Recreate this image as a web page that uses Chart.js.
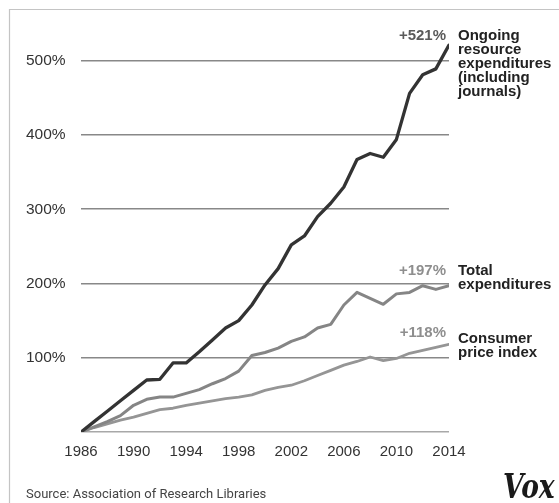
<!DOCTYPE html>
<html>
<head>
<meta charset="utf-8">
<script src="https://cdn.jsdelivr.net/npm/chart.js@4.4.1/dist/chart.umd.min.js"></script>
<style>
html,body{margin:0;padding:0;background:#fff;}
#wrap{position:relative;width:559px;height:503px;}
</style>
</head>
<body>
<div id="wrap"><canvas id="c" width="559" height="503"></canvas></div>
<script>
// ---- data (percent change since 1986) ----
const years = [1986,1987,1988,1989,1990,1991,1992,1993,1994,1995,1996,1997,1998,1999,2000,2001,2002,2003,2004,2005,2006,2007,2008,2009,2010,2011,2012,2013,2014];
const ongoingResources = [0,14,28,42,56,70,71,93,93,108,124,140,150,171,198,220,252,264,290,308,330,367,375,370,394,456,481,489,521];
const totalExpenditures = [0,7,14,22,36,44,47,47,52,57,65,72,82,103,107,113,122,128,140,145,171,188,180,172,186,188,197,192,197];
const consumerPriceIndex = [0,6,11,16,20,25,30,32,36,39,42,45,47,50,56,60,63,69,76,83,90,95,101,96,99,106,110,114,118];
const xTickYears = [1986,1990,1994,1998,2002,2006,2010,2014];
const yTickValues = [0,100,200,300,400,500];
const seriesNames = [
  ['Ongoing','resource','expenditures','(including','journals)'],
  ['Total','expenditures'],
  ['Consumer','price index']
];
const endLabels = ['+521%','+197%','+118%'];
const sourceText = 'Source: Association of Research Libraries';
const brandText = 'Vox';

// ---- styles ----
const lineColors = ['#333333','#858585','#959595'];
const lineWidths = [3.3,3,2.8];
const pctColors = ['#5a5a5a','#8e8e8e','#8e8e8e'];
const labelDy = [-5,-10.7,-1.4];
const pctDy = [-5,-10.7,-7];

const seriesValues = [ongoingResources, totalExpenditures, consumerPriceIndex];
const datasets = seriesValues.map((vals,i)=>({
  label: seriesNames[i].join(' '),
  data: years.map((y,j)=>({x:y,y:vals[j]})),
  borderColor: lineColors[i],
  borderWidth: lineWidths[i],
  pointRadius: 0,
  tension: 0,
  fill: false,
  borderJoinStyle: 'round',
  borderCapStyle: 'round'
}));

const FONT = '"Liberation Sans", Arial, sans-serif';

const decor = {
  id: 'decor',
  beforeDraw(chart){
    const c = chart.ctx;
    c.save();
    c.strokeStyle = '#c4c4c4';
    c.lineWidth = 1.2;
    c.beginPath();
    c.moveTo(9.5, 503); c.lineTo(9.5, 9.5); c.lineTo(559, 9.5);
    c.stroke();
    c.restore();
  },
  afterDraw(chart){
    const c = chart.ctx;
    const xs = chart.scales.x, ys = chart.scales.y;
    const xEnd = xs.getPixelForValue(years[years.length-1]);
    c.save();
    c.textBaseline = 'alphabetic';
    seriesValues.forEach((vals,i)=>{
      const yLast = ys.getPixelForValue(vals[vals.length-1]);
      c.font = 'bold 15px ' + FONT;
      c.fillStyle = pctColors[i];
      c.textAlign = 'right';
      c.fillText(endLabels[i], xEnd - 3, yLast + pctDy[i]);
      c.fillStyle = '#222';
      c.textAlign = 'left';
      seriesNames[i].forEach((ln,k)=>{
        c.fillText(ln, xEnd + 9, yLast + labelDy[i] + k*14);
      });
    });
    c.font = '13px Roboto, ' + FONT;
    c.fillStyle = '#444';
    c.textAlign = 'left';
    c.fillText(sourceText, 26, 498);
    c.save();
    c.translate(503, 498);
    c.scale(0.78, 1);
    c.font = 'bold italic 34px "DejaVu Serif", "Liberation Serif", serif';
    c.fillStyle = '#1a1a1a';
    c.fillText(brandText, 0, 0);
    c.restore();
    c.restore();
  }
};

new Chart(document.getElementById('c'), {
  type: 'line',
  data: { datasets },
  plugins: [decor],
  options: {
    responsive: false,
    animation: false,
    devicePixelRatio: 1,
    layout: { padding: { left: 26, top: 31, right: 110, bottom: 0 } },
    plugins: { legend: { display: false }, tooltip: { enabled: false } },
    scales: {
      x: {
        type: 'linear',
        min: years[0], max: years[years.length-1],
        afterFit(s){ s.height = 71; },
        afterBuildTicks(s){ s.ticks = xTickYears.map(v=>({value:v})); },
        grid: { display: false, drawTicks: false },
        border: { display: false },
        ticks: {
          padding: 11,
          color: '#333',
          font: { size: 15, family: FONT },
          maxRotation: 0,
          autoSkip: false,
          callback: v => String(v)
        }
      },
      y: {
        min: 0, max: 540,
        afterFit(s){ s.width = 55; },
        afterBuildTicks(s){ s.ticks = yTickValues.map(v=>({value:v})); },
        grid: {
          drawTicks: false,
          color: ctx => ctx.tick && ctx.tick.value === 0 ? '#a8a8a8' : '#888888',
          lineWidth: 1.6
        },
        border: { display: false },
        ticks: {
          crossAlign: 'far',
          padding: 0,
          color: '#333',
          font: { size: 15.5, family: FONT },
          callback: v => v === 0 ? '' : v + '%'
        }
      }
    }
  }
});
</script>
</body>
</html>
